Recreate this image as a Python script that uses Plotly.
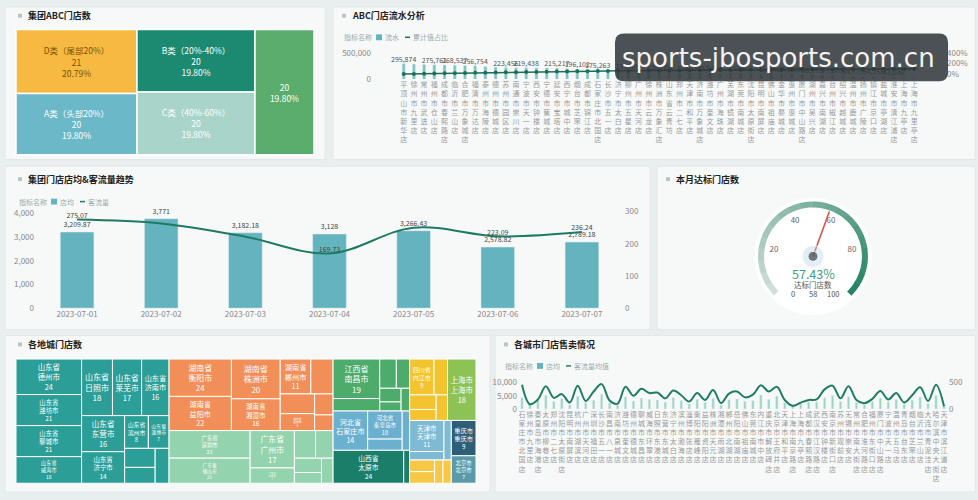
import numpy as np
import plotly.graph_objects as go

W, H = 978, 500
def px(x): return x / W
def py(y): return 1 - y / H

FONT = "Noto Sans CJK SC, Noto Sans, sans-serif"

# ---------------- data ----------------
abc_ids = ["D", "A", "B", "C", "E"]
abc_labels = ["D类（尾部20%）", "A类（头部20%）", "B类（20%-40%）", "C类（40%-60%）", ""]
abc_values = [21, 20, 20, 20, 20]
abc_colors = ["#f6b942", "#6bb8c8", "#1b8a70", "#a9d4ca", "#5aad6c"]
abc_textcolors = ["#7a5200", "white", "white", "white", "white"]

flow_names = ["平顶山市新华店", "徐州市九里店", "常州市武进店", "福州市仓山店", "成都市春熙路店", "临沂市兰山店",
              "合肥市万象城店", "福清市万达店", "泰州市海陵店", "德州市德城店", "苏州市园区店", "南通市崇川店",
              "宁波市天一店", "西安市钟楼店", "宁德市蕉城店", "延安市宝塔店", "西宁市城中店", "烟台市芝罘店",
              "成都市锦江店", "石家庄市北国店", "长沙市五一店", "济宁市太白店", "柳州市五星店", "广州市天河店",
              "徐州市云龙店", "株洲市万象汇店", "山东省云青坊", "郑州市二七店", "天津市和平店", "济南市万象城店",
              "潍坊市奎文店", "广州市海珠店", "芜湖市镜湖店", "东莞市南城店", "沈阳市太原街店", "昆明市南屏店",
              "佛山市祖庙店", "金华市婺城店", "惠州市惠城店", "厦门市中山路店", "湖州市吴兴店", "嘉兴市南湖店",
              "台州市椒江店", "绍兴市越城店", "温州市鹿城店", "扬州市广陵店", "镇江市京口店", "盐城市亭湖店",
              "淮安市清江浦店", "上海市九亭店", "上海市九里亭店"]
flow_values = [295874, 288420, 281305, 275761, 271980, 268537, 262410, 256754, 241893, 232170,
               223456, 221087, 219438, 217560, 216102, 215217, 205346, 196102, 186530, 175263,
               168940, 161275, 154806, 149322, 143518, 138760, 133095, 128420, 124187, 120356,
               117904, 115630, 114215, 112601, 111870, 111152, 110460, 106214, 101990, 95360,
               88578, 82914, 77207, 70385, 64779, 59610, 54158, 48725, 43046, 38190, 32570]
flow_label_idx = [0, 3, 5, 7, 10, 12, 15, 17, 19, 22, 25, 28, 30, 33, 36, 38, 40, 42, 44, 46, 48]
flow_series = ["流水", "累计值占比"]

trend_dates = ["2023-07-01", "2023-07-02", "2023-07-03", "2023-07-04", "2023-07-05", "2023-07-06", "2023-07-07"]
trend_avg = [3209.87, 3771, 3182.18, 3128, 3266.43, 2578.82, 2789.18]
trend_traffic = [275.07, 263, 222, 169.73, 250, 223.09, 236.24]
trend_traffic_show = [True, False, False, True, False, True, True]
trend_series = ["店均", "客流量"]

gauge_count = 58
gauge_total = 101
gauge_min, gauge_max = 0, 100
gauge_ticks = [20, 40, 60, 80]
gauge_title = "达标门店数"

provinces = ["山东省", "湖南省", "广东省", "江西省", "河北省", "山西省", "四川省", "上海市", "天津市", "浙江省", "重庆市", "北京市"]
prov_colors = ["#2b9e97", "#f28f58", "#93d3ad", "#4dab6c", "#6cb0cf", "#1b7e69", "#f4c430", "#8dc255",
               "#7fbad4", "#f6c845", "#2f5f78", "#5b9ba9"]
prov_cities = [
    ["德州市", "潍坊市", "聊城市", "威海市", "日照市", "莱芜市", "济南市", "东营市", "济宁市", "滨州市", "淄博市", "", "", ""],
    ["衡阳市", "益阳市", "株洲市", "湘潭市", "郴州市", "", "", "岳阳市", "", ""],
    ["深圳市", "佛山市", "广州市", "东莞市", "", "", "", "", ""],
    ["南昌市", "", "", "", "", "", ""],
    ["石家庄市", "秦皇岛市", "", ""],
    ["太原市", ""],
    ["内江市", "", "", "", ""],
    ["上海市"],
    ["天津市", "", ""],
    ["", "", "", ""],
    ["重庆市"],
    ["北京市"],
]
prov_city_values = [
    [24, 21, 21, 18, 18, 17, 16, 16, 14, 8, 7, 6, 5, 5],
    [24, 22, 20, 16, 11, 8, 7, 6, 4, 3],
    [23, 21, 17, 7, 6, 5, 4, 3, 3],
    [19, 6, 5, 4, 3, 2, 2],
    [14, 10, 4, 3],
    [24, 2],
    [9, 5, 4, 3, 3],
    [18],
    [11, 3, 3],
    [3, 3, 2, 2],
    [9],
    [7],
]

sales_names = ["石家庄市北国店", "徐州市九里店", "秦皇岛市海港店", "太原市柳巷店", "郑州市二七店", "沈阳市太原街店",
               "昆明市南屏店", "杭州市湖滨店", "广州市天河店", "深圳市福田店", "长沙市五一店", "南昌市八一店",
               "济南市泉城店", "潍坊市奎文店", "德州市德城店", "聊城市东昌店", "威海市环翠店", "日照市东港店",
               "东营市东城店", "济宁市太白店", "滨州市渤海店", "淄博市张店店", "衡阳市雁峰店", "益阳市资阳店",
               "株洲市天元店", "湘潭市雨湖店", "郴州市北湖店", "岳阳市南湖店", "佛山市祖庙店", "东莞市南城店",
               "内江市市中店", "重庆市解放碑店", "北京市王府井店", "天津市和平店", "上海市南京路店", "上海市九亭店",
               "成都市春熙路店", "武汉市江汉路店", "西安市钟楼店", "南京市新街口店", "苏州市观前店", "无锡市崇安店",
               "常州市南大街店", "合肥市淮河路店", "福州市东街口店", "厦门市中山路店", "宁波市天一店", "温州市五马店",
               "青岛市台东店", "烟台市芝罘店", "临沂市兰山店", "大连市青泥洼店", "哈尔滨中央大街店", "天津市滨江道店"]
sales_avg = [4200, 2100, 3500, 5200, 2800, 3900, 1600, 4800, 2400, 3300, 5600, 2200, 1800, 4600, 3000, 4100, 3600, 3400,
             2600, 4300, 3200, 1900, 3700, 2500, 4000, 1500, 3500, 3800, 2900, 3100, 5300, 3600, 4900, 2300, 1200, 2000,
             2700, 2600, 4200, 5000, 2800, 4700, 2400, 1700, 2900, 4100, 2600, 3600, 1800, 3300, 4500, 2100, 5100, 1400]
sales_traffic = [460, 90, 180, 430, 210, 280, 120, 440, 150, 330, 470, 160, 100, 420, 250, 380, 300, 310, 200, 350,
                 260, 140, 300, 170, 360, 110, 290, 330, 220, 270, 450, 330, 420, 170, 60, 120, 170, 180, 370, 440,
                 200, 430, 170, 110, 190, 340, 180, 300, 120, 260, 410, 150, 460, 50]
sales_series = ["店均", "客流量均值"]

# ---------------- figure ----------------
fig = go.Figure()
shapes, annos = [], []

panels = [(5, 1, 325, 157), (333, 1, 975, 157), (5, 164, 650, 331), (657, 164, 975, 331),
          (5, 337, 490, 497), (495, 337, 975, 497)]
for x0, y0, x1, y1 in panels:
    shapes.append(dict(type="rect", xref="paper", yref="paper", x0=px(x0), x1=px(x1), y0=py(y1), y1=py(y0),
                       fillcolor="#f7f9f9", line=dict(color="#e2e8e8", width=1), layer="below"))

def note(x, y, text, size, color, family=FONT, xanchor="center"):
    annos.append(dict(x=px(x), y=py(y), xref="paper", yref="paper", xanchor=xanchor, yanchor="middle",
                      text=text, showarrow=False, font=dict(size=size, color=color, family=family)))

def title(x, y, text):
    shapes.append(dict(type="rect", xref="paper", yref="paper", x0=px(x - 9), x1=px(x - 5), y0=py(y + 2), y1=py(y - 2),
                       fillcolor="#b9c6c6", line=dict(width=0), layer="below"))
    note(x - 1, y, "<b>" + text + "</b>", 9, "#222", xanchor="left")

def legend(x, y, names, bar_color, line_color):
    note(x, y, "指标名称", 7, "#9aa", xanchor="left")
    sx = x + 34
    shapes.append(dict(type="rect", xref="paper", yref="paper", x0=px(sx), x1=px(sx + 6), y0=py(y + 3), y1=py(y - 3),
                       fillcolor=bar_color, line=dict(width=0)))
    note(sx + 7, y, names[0], 7, "#9aa", xanchor="left")
    lx = sx + 7 + 8 * len(names[0]) + 6
    shapes.append(dict(type="line", xref="paper", yref="paper", x0=px(lx), x1=px(lx + 5), y0=py(y), y1=py(y),
                       line=dict(color=line_color, width=1.5)))
    note(lx + 6, y, names[1], 7, "#9aa", xanchor="left")

title(27, 10, "集团ABC门店数")
title(351, 10, "ABC门店流水分析")
title(27, 177, "集团门店店均&客流量趋势")
title(675, 177, "本月达标门店数")
title(27, 346, "各地城门店数")
title(513, 346, "各城市门店售卖情况")

legend(342, 32, flow_series, "#63b4bf", "#1e6e58")
legend(17, 200, trend_series, "#63b4bf", "#1f7a62")
legend(503, 368, sales_series, "#63b4bf", "#1f7d62")

# --- treemap 1 ---
total_abc = sum(abc_values)
abc_text = []
for lab, v in zip(abc_labels, abc_values):
    pct = f"{v / total_abc * 100:.2f}%"
    abc_text.append((lab + "<br>" if lab else "") + f"{v}<br>{pct}")
fig.add_trace(go.Treemap(
    ids=abc_ids, labels=abc_ids, parents=[""] * len(abc_ids), values=abc_values, sort=False,
    text=abc_text, texttemplate="%{text}", textposition="middle center",
    textfont=dict(size=8.5, color=abc_textcolors, family=FONT),
    marker=dict(colors=abc_colors, line=dict(color="white", width=1.5), pad=dict(t=0, l=0, r=0, b=0)),
    tiling=dict(pad=0, squarifyratio=1.618), pathbar=dict(visible=False),
    domain=dict(x=[px(16), px(314)], y=[py(152), py(24)]), hoverinfo="skip"))

# --- treemap 2 ---
ids, labels, parents, values, colors, texts = [], [], [], [], [], []
for prov, col, cs, vs in zip(provinces, prov_colors, prov_cities, prov_city_values):
    ids.append(prov); labels.append(prov); parents.append(""); values.append(0); colors.append(col); texts.append("")
    for k, (c, v) in enumerate(zip(cs, vs)):
        ids.append(f"{prov}/{k}"); labels.append(c if c else " "); parents.append(prov); values.append(v)
        colors.append(col)
        texts.append(f"{prov}<br>{c}<br>{v}" if c else "")
fig.add_trace(go.Treemap(
    ids=ids, labels=labels, parents=parents, values=values, branchvalues="remainder",
    text=texts, texttemplate="%{text}", textposition="middle center",
    textfont=dict(size=8, color="white", family=FONT),
    marker=dict(colors=colors, line=dict(color="white", width=1), pad=dict(t=0, l=0, r=0, b=0)),
    tiling=dict(pad=0, squarifyratio=1.7), pathbar=dict(visible=False),
    domain=dict(x=[px(16), px(476)], y=[py(488), py(361)]), hoverinfo="skip"))

# --- ABC flow chart ---
cum = np.cumsum(flow_values) / np.sum(flow_values)
flow_text = [f"{v:,}" if i in flow_label_idx else "" for i, v in enumerate(flow_values)]
fig.add_trace(go.Bar(x=flow_names, y=flow_values, xaxis="x", yaxis="y", name=flow_series[0], marker_color="#7cc4bc",
                     width=0.3, text=flow_text, textposition="outside", constraintext="none", cliponaxis=False,
                     textfont=dict(size=7, color="#555"), hoverinfo="skip"))
fig.add_trace(go.Scatter(x=flow_names, y=cum, xaxis="x", yaxis="y2", name=flow_series[1], mode="lines+markers",
                         line=dict(color="#1e6e58", width=1.5), marker=dict(size=4, color="#1e6e58"),
                         hoverinfo="skip"))

# --- trend chart ---
trend_text = [f"{v:,.2f}".rstrip("0").rstrip(".") for v in trend_avg]
fig.add_trace(go.Bar(x=trend_dates, y=trend_avg, xaxis="x2", yaxis="y3", name=trend_series[0], marker_color="#63b4bf",
                     width=0.4, text=trend_text, textposition="outside", constraintext="none", cliponaxis=False,
                     textfont=dict(size=7, color="#444"), hoverinfo="skip"))
fig.add_trace(go.Scatter(x=trend_dates, y=trend_traffic, xaxis="x2", yaxis="y4", name=trend_series[1],
                         mode="lines+text", line=dict(color="#1f7a62", width=2, shape="spline", smoothing=1),
                         text=[f"{v:.2f}" if s else "" for v, s in zip(trend_traffic, trend_traffic_show)],
                         textposition="top center", textfont=dict(size=7, color="#444"), cliponaxis=False,
                         hoverinfo="skip"))

# --- city sales chart ---
fig.add_trace(go.Bar(x=sales_names, y=sales_avg, xaxis="x3", yaxis="y5", name=sales_series[0], marker_color="#9ad6c2",
                     width=0.3, hoverinfo="skip"))
fig.add_trace(go.Scatter(x=sales_names, y=sales_traffic, xaxis="x3", yaxis="y6", name=sales_series[1], mode="lines",
                         line=dict(color="#1f7d62", width=2, shape="spline", smoothing=1), cliponaxis=False,
                         hoverinfo="skip"))

# --- gauge (polar) ---
gauge_pct = gauge_count / gauge_total * 100
def th(v): return (v - gauge_min) / (gauge_max - gauge_min) * 270
c0, c1 = np.array([208, 222, 216]), np.array([38, 132, 100])
nseg = 20
for k in range(nseg):
    v0 = gauge_min + (gauge_max - gauge_min) * k / nseg
    v1 = gauge_min + (gauge_max - gauge_min) * (k + 1) / nseg
    t = k / (nseg - 1)
    c = (c0 + (c1 - c0) * t).astype(int)
    fig.add_trace(go.Scatterpolar(r=[1] * 6, theta=[th(v) for v in np.linspace(v0, v1 + 0.3, 6)], mode="lines",
                                  line=dict(color=f"rgb({c[0]},{c[1]},{c[2]})", width=6),
                                  hoverinfo="skip", subplot="polar"))
fig.add_trace(go.Scatterpolar(r=[0.76] * len(gauge_ticks), theta=[th(v) for v in gauge_ticks], mode="text",
                              text=[str(v) for v in gauge_ticks], textfont=dict(size=8, color="#666"),
                              hoverinfo="skip", subplot="polar"))
fig.add_trace(go.Scatterpolar(r=[0, 0.92], theta=[th(gauge_pct)] * 2, mode="lines",
                              line=dict(color="#d4584a", width=1.6), hoverinfo="skip", subplot="polar"))
fig.add_trace(go.Scatterpolar(r=[0, 0], theta=[0, 0], mode="markers",
                              marker=dict(size=[22, 10], color=["rgba(190,214,232,0.6)", "#3b4747"]),
                              hoverinfo="skip", subplot="polar"))
note(813, 274, f"{gauge_pct:.2f}%", 12.5, "#3c9c8a")
note(813, 285, gauge_title, 7.5, "#555")
note(793, 294, str(gauge_min), 7.5, "#555")
note(813, 294, str(gauge_count), 7.5, "#555")
note(833, 294, str(gauge_max), 7.5, "#555")

# --- watermark ---
def rrect(x0, y0, x1, y1, r):
    pts = [("M", x0 + r, y0), ("L", x1 - r, y0), ("Q", x1, y0, x1, y0 + r), ("L", x1, y1 - r),
           ("Q", x1, y1, x1 - r, y1), ("L", x0 + r, y1), ("Q", x0, y1, x0, y1 - r), ("L", x0, y0 + r),
           ("Q", x0, y0, x0 + r, y0)]
    s = ""
    for p in pts:
        cmd, coords = p[0], p[1:]
        s += cmd + " " + " ".join(f"{px(coords[i]):.5f},{py(coords[i + 1]):.5f}" for i in range(0, len(coords), 2)) + " "
    return s + "Z"
shapes.append(dict(type="path", xref="paper", yref="paper", path=rrect(615, 28, 948, 77, 9),
                   fillcolor="rgba(48,53,58,0.86)", line=dict(width=0), layer="above"))
note(778, 53, "sports-jbosports.com.cn", 26, "#f3f3f3", family="DejaVu Sans, sans-serif")

def vert(s): return "<br>".join(list(s))
tickf = dict(size=8, color="#888", family=FONT)

fig.update_layout(
    width=W, height=H, autosize=False, margin=dict(l=0, r=0, t=0, b=0),
    paper_bgcolor="#e9eeee", plot_bgcolor="rgba(0,0,0,0)", font=dict(family=FONT),
    hovermode=False, showlegend=False, shapes=shapes, annotations=annos, barmode="overlay",
    xaxis=dict(domain=[px(372), px(946)], anchor="y", tickmode="array", tickvals=flow_names,
               ticktext=[vert(n) for n in flow_names], tickangle=0, tickfont=dict(size=7, color="#999", family=FONT),
               showgrid=False, zeroline=False, showline=False, ticks=""),
    yaxis=dict(domain=[py(75), py(45)], anchor="x", range=[0, 555555], tickvals=[0, 500000], tickformat=",",
               tickfont=tickf, showgrid=False, zeroline=False),
    yaxis2=dict(overlaying="y", side="right", anchor="x", range=[-0.95, 4.55], tickvals=[0, 2, 4],
                tickformat=".0%", tickfont=tickf, showgrid=False, zeroline=False),
    xaxis2=dict(domain=[px(35), px(624)], anchor="y3", tickfont=tickf, showgrid=False, zeroline=False, ticks="",
                type="category"),
    yaxis3=dict(domain=[py(309), py(210)], anchor="x2", range=[0, 4082], tickvals=[0, 1000, 2000, 3000, 4000],
                tickformat=",", tickfont=tickf, showgrid=False, zeroline=False),
    yaxis4=dict(overlaying="y3", side="right", anchor="x2", range=[0, 300.5], tickvals=[0, 100, 200, 300],
                tickfont=tickf, showgrid=False, zeroline=False),
    xaxis3=dict(domain=[px(518), px(948)], anchor="y5", tickmode="array", tickvals=sales_names,
                ticktext=[vert(n) for n in sales_names], tickangle=0,
                tickfont=dict(size=7, color="#999", family=FONT), showgrid=False, zeroline=False, ticks=""),
    yaxis5=dict(domain=[py(412), py(383)], anchor="x3", range=[0, 10741], tickvals=[0, 5000, 10000],
                tickformat=",", tickfont=tickf, showgrid=False, zeroline=False),
    yaxis6=dict(overlaying="y5", side="right", anchor="x3", range=[0, 537], tickvals=[0, 500],
                tickfont=tickf, showgrid=False, zeroline=False),
    polar=dict(domain=dict(x=[px(753), px(873)], y=[py(316), py(196)]), bgcolor="rgba(255,255,255,0.9)",
               radialaxis=dict(visible=False, range=[0, 1.13]),
               angularaxis=dict(visible=False, rotation=225, direction="clockwise", thetaunit="degrees")),
)

fig.write_html("out.html")
